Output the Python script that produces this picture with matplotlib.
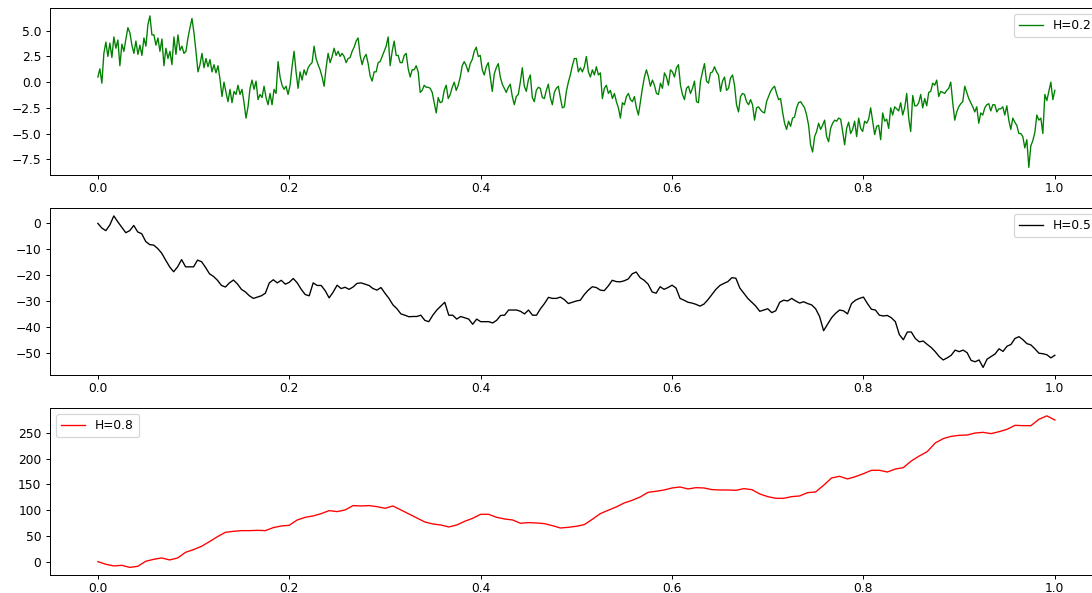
import numpy as np
import matplotlib
matplotlib.use("Agg")
import matplotlib.pyplot as plt
from matplotlib.ticker import MultipleLocator

# sample paths of fractional Brownian motion on [0, 1], one per Hurst exponent
hurst_labels = ["H=0.2", "H=0.5", "H=0.8"]
line_colors = ["green", "black", "red"]
legend_locs = ["upper right", "upper right", "upper left"]
ytick_steps = [2.5, 10, 50]

path_h02 = [
    0.5, 1.3, -0.1, 2.8, 3.9, 2.5, 3.8, 2.4, 4.4, 3.3,
    4.1, 1.6, 3.7, 3.0, 4.2, 5.3, 4.8, 3.6, 2.8, 4.0,
    2.7, 3.6, 2.6, 4.3, 3.5, 5.6, 6.45, 4.6, 4.6, 3.6,
    4.3, 3.0, 4.2, 1.6, 3.3, 2.3, 3.0, 1.7, 4.4, 2.7,
    4.6, 3.1, 3.5, 2.8, 3.0, 4.3, 5.3, 6.2, 4.8, 3.0,
    1.0, 1.7, 2.8, 1.4, 2.3, 1.5, 2.2, 1.0, 1.7, 0.9,
    1.6, 0.3, -1.4, 0.0, -1.0, -1.9, -0.7, -2.0, -0.9, -1.2,
    -0.3, -1.2, -0.7, -2.0, -3.5, -2.4, -0.6, 0.2, -0.7, 0.1,
    -1.7, -1.2, -1.5, -0.4, -1.5, -2.2, -1.1, -2.2, -0.7, -1.1,
    2.0, 0.5, -0.3, -0.7, -0.4, -1.2, -0.3, 1.5, 3.0, 1.0,
    -0.6, 1.0, 0.2, 1.2, 0.7, 1.4, 1.7, 1.9, 3.5, 2.3,
    1.7, 1.2, 0.5, -0.4, 1.4, 2.8, 1.9, 2.5, 3.3, 2.6,
    3.0, 2.5, 2.8, 2.5, 1.9, 2.3, 2.4, 3.0, 3.4, 4.0,
    4.3, 2.6, 1.7, 2.4, 2.7, 1.8, 0.6, 0.1, 1.0, 1.0,
    1.9, 2.0, 2.5, 3.0, 3.5, 4.4, 1.6, 3.0, 4.0, 2.6,
    2.6, 1.9, 1.9, 2.6, 2.8, 1.3, 0.5, 1.2, 1.2, 1.6,
    1.0, -1.0, -0.8, -0.3, -0.5, -0.5, -0.6, -1.0, -2.0, -3.0,
    -1.5, -2.0, -1.9, -0.8, -0.3, -1.6, -1.2, -0.5, 0.0, -0.8,
    -0.3, 0.5, 1.6, 2.0, 1.6, 1.0, 1.8, 2.2, 3.0, 3.4,
    2.5, 2.6, 1.2, 0.7, 1.5, 1.9, 0.5, -0.9, 0.8, 1.4,
    1.8, 0.5, -0.2, -0.6, -1.0, -0.5, -0.2, -1.4, -2.2, -1.4,
    -1.2, 0.0, 1.4, -0.4, -0.9, 0.2, 0.7, -1.5, -1.9, -0.8,
    -0.5, -0.6, -1.5, -1.6, -0.8, -0.2, -1.5, -2.2, -1.0, -0.6,
    -0.4, -1.5, -2.5, -2.4, -0.9, 0.0, 0.7, 1.6, 2.3, 2.3,
    1.0, 1.4, 1.0, 1.5, 2.5, 1.0, 0.5, 1.2, 0.7, 1.5,
    0.7, 0.9, -1.6, -0.6, -0.3, -1.1, -0.8, -1.6, -1.1, -1.9,
    -2.5, -3.5, -2.0, -2.2, -1.4, -1.1, -1.7, -1.9, -1.4, -2.5,
    -3.2, -1.9, -0.6, 0.5, 1.2, 0.5, -0.4, 0.2, -0.3, -1.1,
    -1.2, -0.1, -0.6, 0.9, 0.5, -0.3, 1.2, 1.0, 0.5, 1.4,
    1.7, -0.3, -1.2, -1.7, -0.6, -0.4, -1.1, -0.6, 0.1, -1.9,
    -2.0, 0.1, 1.0, 1.8, 0.1, -0.1, 0.9, 1.0, 1.5, 1.0,
    0.7, -0.9, 0.1, 0.5, -0.8, -0.6, 0.4, 0.7, -0.3, -2.2,
    -2.9, -1.4, -1.1, -1.2, -1.9, -2.2, -1.7, -2.2, -3.7, -2.5,
    -2.4, -2.7, -2.9, -3.0, -1.9, -1.4, -0.9, -0.6, -0.4, -1.1,
    -1.7, -1.6, -2.9, -4.0, -4.6, -3.8, -4.3, -3.5, -3.4, -2.5,
    -2.0, -1.9, -2.2, -2.5, -3.2, -4.2, -6.1, -6.8, -5.3, -4.8,
    -4.0, -4.6, -4.2, -3.7, -5.3, -5.8, -4.5, -4.0, -3.7, -3.8,
    -3.5, -3.6, -4.8, -6.1, -4.5, -3.9, -5.0, -4.6, -3.8, -5.3,
    -3.5, -4.5, -4.8, -3.8, -4.0, -3.6, -2.5, -3.8, -5.1, -4.3,
    -4.2, -5.6, -3.0, -3.8, -3.6, -4.5, -2.5, -3.2, -2.4, -2.6,
    -2.8, -2.0, -3.2, -2.5, -1.1, -3.5, -4.8, -1.3, -2.3, -2.3,
    -2.0, -1.2, -2.5, -1.6, -2.3, -1.0, -0.9, -0.1, -0.3, 0.2,
    -1.4, -0.9, -1.0, -1.1, -0.8, -0.6, 0.0, -2.0, -3.7, -2.9,
    -2.4, -2.1, -1.9, -0.4, -1.0, -1.6, -2.0, -2.4, -2.9, -2.4,
    -4.0, -3.0, -3.2, -2.5, -2.2, -2.1, -2.8, -2.2, -2.2, -2.9,
    -2.6, -2.6, -2.4, -3.2, -2.3, -3.7, -4.6, -3.5, -3.9, -4.2,
    -5.0, -5.0, -5.3, -6.4, -5.6, -8.3, -6.2, -5.7, -4.9, -3.2,
    -3.7, -3.5, -5.0, -1.2, -1.8, -0.9, 0.0, -1.7, -0.8,
]

path_h05 = [
    0.0, -1.8, -2.8, -0.6, 2.9, 0.6, -1.5, -3.6, -2.8, -0.8,
    -3.3, -4.0, -7.0, -8.2, -8.4, -9.7, -11.5, -14.2, -16.8, -18.7,
    -16.8, -14.0, -16.8, -16.8, -16.8, -14.2, -14.8, -17.0, -19.5, -20.5,
    -22.0, -24.0, -24.6, -23.0, -21.9, -23.4, -25.5, -26.5, -28.0, -29.0,
    -28.5, -28.0, -27.0, -23.0, -21.8, -23.0, -22.0, -23.5, -22.8, -21.3,
    -23.0, -25.5, -27.5, -28.0, -23.0, -24.0, -24.0, -26.0, -28.8,
    -26.6, -23.9, -25.2, -24.7, -25.5, -24.6, -23.2, -23.0, -23.5, -24.0,
    -25.2, -25.8, -24.8, -27.0, -29.0, -31.5, -33.0, -35.0, -35.5, -36.1,
    -36.0, -36.0, -35.5, -37.5, -38.0, -35.5, -33.5, -32.0, -30.5, -35.5,
    -35.5, -37.0, -36.0, -36.5, -37.0, -39.0, -37.0, -38.0, -38.0, -38.0,
    -38.5, -37.5, -35.6, -35.5, -33.5, -33.5, -33.5, -34.0, -35.0, -33.5,
    -35.5, -35.5, -33.0, -31.0, -28.6, -29.0, -29.0, -28.5, -29.5, -31.0, -30.5, -30.0,
    -29.7, -27.5, -25.8, -24.5, -24.8, -25.8, -26.0, -24.2, -22.0, -22.5,
    -22.6, -22.2, -21.5, -19.5, -18.8, -21.0, -22.0, -23.5, -26.5, -27.0,
    -24.5, -25.5, -24.8, -23.9, -25.0, -29.0, -29.7, -30.5, -30.8, -31.3,
    -32.0, -31.2, -29.5, -27.5, -25.5, -24.0, -23.2, -22.5, -21.0, -21.2,
    -25.0, -27.0, -29.0, -30.5, -32.0, -34.0, -33.5, -33.0, -34.5, -33.8,
    -30.5, -29.7, -30.0, -29.0, -30.0, -30.8, -30.3, -31.0, -31.5, -33.0,
    -36.0, -41.5, -39.0, -36.5, -34.8, -33.5,
    -33.8, -35.0, -31.0, -29.7, -29.0, -28.5, -31.0, -33.2, -33.5, -35.5,
    -35.8, -35.6, -36.5, -38.0, -43.0, -45.0, -42.0, -42.0, -44.5, -45.8,
    -45.5, -46.8, -48.0, -49.6, -51.5, -52.8, -52.0, -51.0, -49.0, -49.6,
    -49.0, -50.0, -53.0, -53.5, -52.8, -55.7, -52.5, -51.5, -50.5, -48.5,
    -49.5, -47.5, -46.8, -44.5, -43.8, -45.0, -46.5, -47.0, -48.5, -50.2,
    -50.4, -50.8, -52.0, -51.0,
]

path_h08 = [
    1.2, -3.9, -7.1, -5.9, -9.9, -7.8, 1.9, 5.7, 8.3, 4.5,
    8.3, 19.2, 24.4, 30.8, 39.8, 49.4, 57.8, 59.7, 61.0, 61.0,
    61.6, 61.0, 66.8, 70.0, 71.3, 81.6, 86.7, 89.3, 93.8, 99.6,
    97.7, 100.9, 109.3, 108.6, 109.3, 107.3, 104.1, 108.6, 100.9, 93.2,
    85.5, 77.7, 73.9, 71.9, 68.1, 71.9, 79.0, 84.8, 92.5, 92.5,
    86.7, 83.5, 81.6, 75.2, 76.5, 75.8, 74.5, 70.6, 66.1, 67.4,
    69.4, 72.6, 82.9, 93.8, 100.3, 106.7, 114.4, 119.5, 125.9, 134.9,
    136.9, 139.4, 143.3, 145.2, 141.4, 143.9, 143.3, 140.1, 139.4, 139.4,
    138.8, 142.0, 140.1, 131.7, 126.6, 123.4, 123.4, 126.6, 127.9, 134.3,
    135.6, 148.4, 162.6, 165.8, 160.7, 165.2, 170.9, 177.4, 177.4, 174.1,
    179.9, 182.5, 195.4, 205.0, 213.4, 230.1, 238.4, 242.9, 244.8, 245.5,
    249.3, 250.6, 248.1, 251.9, 256.4, 264.1, 263.5, 263.5, 275.7, 282.4, 274.4,
]

paths = [path_h02, path_h05, path_h08]

DPI = 88
fig = plt.figure(figsize=(1092 / DPI, 593 / DPI), dpi=DPI)

# three stacked panels; the plot area runs a little past the right edge
bottoms = [0.7049, 0.3676, 0.0304]
for values, color, label, loc, step, bottom in zip(paths, line_colors, hurst_labels,
                                                   legend_locs, ytick_steps, bottoms):
    ax = fig.add_axes([0.0458, bottom, 0.964, 0.2811])
    t = np.linspace(0, 1, len(values))
    ax.plot(t, values, color=color, lw=1.1, label=label)
    ax.yaxis.set_major_locator(MultipleLocator(step))
    ax.tick_params(axis="x", pad=2.0)
    ax.legend(loc=loc)

fig.savefig("out.png", dpi=DPI)
